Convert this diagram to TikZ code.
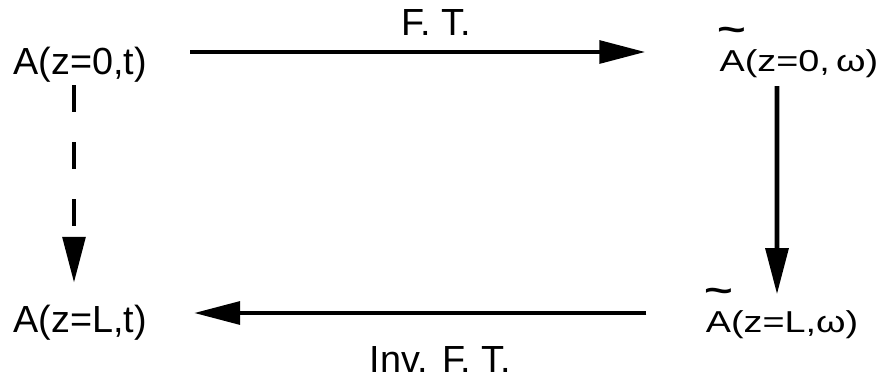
\documentclass[tikz,border=0pt]{standalone}
\usepackage{fontspec}
\setmainfont{Liberation Sans}
\usepackage{graphicx}
\usetikzlibrary{arrows.meta}
\newcommand{\tildA}{\ooalign{A\cr\hidewidth\raisebox{1.0em}{\scalebox{1.3}[1.15]{\bfseries\textasciitilde}}\hidewidth\cr}}
\newcommand{\squash}[1]{\scalebox{1}[0.8]{#1}}

\begin{document}
\begin{tikzpicture}[
  field/.style={inner sep=0pt,anchor=base,font=\fontsize{21.5}{26}\selectfont},
  opname/.style={inner sep=0pt,anchor=base,font=\fontsize{21.5}{26}\selectfont},
  ftarrow/.style={-{Triangle[length=9.2mm,width=4.5mm]},line width=2.6pt},
  dasharrow/.style={ftarrow,dash pattern=on 5.4mm off 6mm}
]
\useasboundingbox (0,0) rectangle (17.64,7.56);

\node[field] (a0) at (1.60,6.07) {A(z=0,t)};
\node[field] (b0) at (15.98,6.12) {\squash{\tildA(z=0,\,ω)}};
\node[field] (c0) at (1.60,0.91) {A(z=L,t)};
\node[field] (d0) at (15.64,0.91) {\squash{\tildA(z=L,ω)}};

\coordinate (ftstart) at ([xshift=8.6mm,yshift=4.5mm]a0.base east);
\draw[ftarrow] (ftstart) -- ([xshift=-14.8mm]b0.base west |- ftstart)
  node[opname,pos=0.54,yshift=3.2mm] (ft) {F. T.};
\draw[ftarrow,shorten <=1.5mm,shorten >=3.2mm] ([xshift=-4.4mm]b0.south)
  -- ([xshift=-1mm]d0.north);
\draw[ftarrow] ([xshift=-11.8mm,yshift=3.9mm]d0.base west)
  -- ([xshift=9.4mm,yshift=3.9mm]c0.base east)
  node[opname,pos=0.455,yshift=-11.8mm] (inv) {Inv. F. T.};
\draw[dasharrow,shorten <=0.5mm,shorten >=4.4mm] ([xshift=-1.2mm]a0.south)
  -- ([xshift=-1.2mm]c0.north);
\end{tikzpicture}
\end{document}
